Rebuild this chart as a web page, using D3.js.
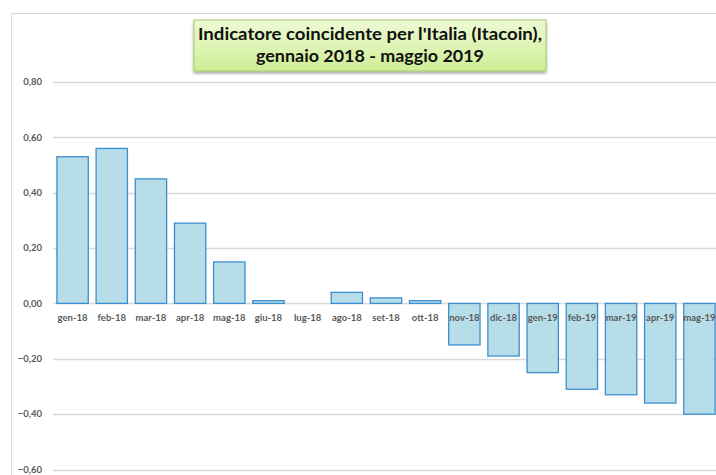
<!DOCTYPE html>
<html>
<head>
<meta charset="utf-8">
<script src="https://cdn.jsdelivr.net/npm/d3@7"></script>
<style>
  body { margin: 0; background: white; }
</style>
</head>
<body>
<div id="chart"></div>
<script>
const months = ["gen-18", "feb-18", "mar-18", "apr-18", "mag-18", "giu-18", "lug-18", "ago-18", "set-18",
                "ott-18", "nov-18", "dic-18", "gen-19", "feb-19", "mar-19", "apr-19", "mag-19"];
const itacoin = [0.53, 0.56, 0.45, 0.29, 0.15, 0.01, 0.00, 0.04, 0.02,
                 0.01, -0.15, -0.19, -0.25, -0.31, -0.33, -0.36, -0.40];
const yTicks = [0.8, 0.6, 0.4, 0.2, 0, -0.2, -0.4, -0.6];
const titleLines = ["Indicatore coincidente per l'Italia (Itacoin),", "gennaio 2018 - maggio 2019"];

const width = 716;
const height = 475;
const font = "Lato, 'Open Sans', sans-serif";

const svg = d3.select('#chart')
              .append('svg')
              .attr('width', width)
              .attr('height', height)
              .style('background', 'white');

// chart area border (cut off at right and bottom)
svg.append("path")
   .attr("d", `M11.5,${height} V13.5 H${width}`)
   .attr("fill", "none")
   .attr("stroke", "#d9d9d9")
   .attr("stroke-width", 1);

const x = d3.scaleBand()
            .domain(months)
            .range([53, 719])
            .paddingInner(0.2)
            .paddingOuter(0.1);

const y = d3.scaleLinear()
            .domain([-0.6, 0.8])
            .range([469.5, 82]);

const fmt = d3.format(".2f");

// gridlines
svg.append("g")
   .selectAll("line")
   .data(yTicks)
   .enter()
   .append("line")
   .attr("x1", 53)
   .attr("x2", width)
   .attr("y1", d => Math.round(y(d)) + 0.5)
   .attr("y2", d => Math.round(y(d)) + 0.5)
   .attr("stroke", "#d9d9d9")
   .attr("stroke-width", 1.3);

// y tick labels
svg.append("g")
   .selectAll("text")
   .data(yTicks)
   .enter()
   .append("text")
   .attr("x", 42)
   .attr("y", d => y(d))
   .attr("dy", "0.35em")
   .attr("text-anchor", "end")
   .style("font-family", font)
   .style("font-size", "9.5px")
   .style("font-weight", "bold")
   .style("fill", "#595959")
   .text(d => fmt(d).replace(".", ","));

// bars
svg.append("g")
   .selectAll("rect")
   .data(itacoin)
   .enter()
   .append("rect")
   .attr("x", (d, i) => x(months[i]))
   .attr("y", d => y(Math.max(d, 0)))
   .attr("width", x.bandwidth())
   .attr("height", d => Math.abs(y(d) - y(0)))
   .attr("fill", "#b7dde8")
   .attr("stroke", d => d === 0 ? "none" : "#3a8fd0")
   .attr("stroke-width", 1.3);

// category labels
svg.append("g")
   .selectAll("text")
   .data(months)
   .enter()
   .append("text")
   .attr("x", d => x(d) + x.bandwidth() / 2)
   .attr("y", y(0) + 18)
   .attr("text-anchor", "middle")
   .style("font-family", font)
   .style("font-size", "9.5px")
   .style("font-weight", "bold")
   .style("fill", "#595959")
   .text(d => d);

// title box
const defs = svg.append("defs");
const grad = defs.append("linearGradient")
                 .attr("id", "titleGrad")
                 .attr("x1", 0).attr("y1", 0)
                 .attr("x2", 0).attr("y2", 1);
grad.append("stop").attr("offset", "0%").attr("stop-color", "#eefad6");
grad.append("stop").attr("offset", "100%").attr("stop-color", "#cdee95");

const filter = defs.append("filter")
                   .attr("id", "shadow")
                   .attr("x", "-10%").attr("y", "-20%")
                   .attr("width", "120%").attr("height", "150%");
filter.append("feDropShadow")
      .attr("dx", 0).attr("dy", 2)
      .attr("stdDeviation", 1.5)
      .attr("flood-color", "#000")
      .attr("flood-opacity", 0.35);

svg.append("rect")
   .attr("x", 194)
   .attr("y", 20)
   .attr("width", 352)
   .attr("height", 51)
   .attr("fill", "url(#titleGrad)")
   .attr("stroke", "#a6c96a")
   .attr("stroke-width", 1)
   .attr("filter", "url(#shadow)");

svg.append("g")
   .selectAll("text")
   .data(titleLines)
   .enter()
   .append("text")
   .attr("x", 370)
   .attr("y", (d, i) => 40 + i * 22)
   .attr("text-anchor", "middle")
   .attr("textLength", (d, i) => i === 0 ? 344 : 228)
   .attr("lengthAdjust", "spacingAndGlyphs")
   .style("font-family", font)
   .style("font-size", "17px")
   .style("font-weight", "bold")
   .style("fill", "#111")
   .text(d => d);
</script>
</body>
</html>
